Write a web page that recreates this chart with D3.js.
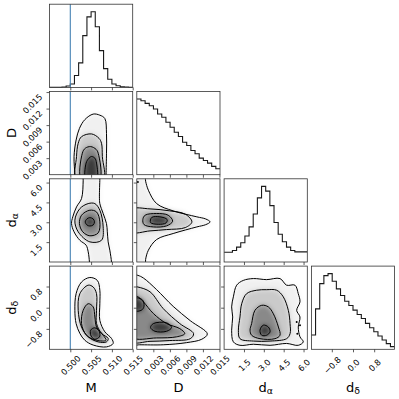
<!DOCTYPE html>
<html><head><meta charset="utf-8">
<script src="https://cdn.jsdelivr.net/npm/d3@7"></script>
<style>
body{margin:0;background:#fff}
text{font-family:"DejaVu Sans",sans-serif;fill:#000}
</style></head><body>
<svg id="c" width="399" height="399"></svg>
<script>
// ---------------- data ----------------
const params = ["M", "D", "dα", "dδ"];
const ranges = [[0.495, 0.515], [0, 0.0151], [0, 6.2832], [-1.5708, 1.5708]];
const tickValues = [[0.500, 0.505, 0.510, 0.515], [0.003, 0.006, 0.009, 0.012, 0.015], [1.5, 3.0, 4.5, 6.0], [-0.8, 0.0, 0.8]];
const tickLabels = [["0.500", "0.505", "0.510", "0.515"], ["0.003", "0.006", "0.009", "0.012", "0.015"], ["1.5", "3.0", "4.5", "6.0"], ["−0.8", "0.0", "0.8"]];
const truthM = 0.500;

// 20-bin histograms (counts, arbitrary units)
const histM  = [0,0,0,1,4,10,35,72,152,207,222,178,108,55,24,10,5,2,1,0];
const histD  = [228,223,215,208,198,183,173,158,143,128,115,98,88,73,63,50,43,35,25,18];
const histDa = [29,29,34,44,57,77,104,142,190,224,210,167,117,82,60,44,34,30,30,30];
const histDd = [43,122,198,222,228,205,182,162,145,132,118,105,93,78,65,53,40,28,17,8];

// contour outlines [level, points] in data units (level 1 = outermost)
const contourMD = [
 [1, [[0.5011,-0.001],[0.5011,0],[0.5009,0.0033],[0.5014,0.0063],[0.5022,0.0084],[0.5035,0.0100],[0.5055,0.0110],[0.5071,0.0108],[0.5083,0.0102],[0.5087,0.0075],[0.5087,0.0039],[0.5086,0],[0.5086,-0.001]]],
 [2, [[0.5015,-0.001],[0.5015,0.0033],[0.5019,0.0057],[0.5027,0.0069],[0.5051,0.0074],[0.5069,0.0066],[0.5075,0.0057],[0.5077,0.0033],[0.5079,-0.001]]],
 [3, [[0.5027,-0.001],[0.5029,0.0039],[0.5036,0.0048],[0.5049,0.0051],[0.5062,0.0046],[0.5067,0.0039],[0.5070,-0.001]]],
 [4, [[0.5038,-0.001],[0.5038,0.0021],[0.5045,0.0030],[0.5051,0.0033],[0.5059,0.0030],[0.5063,0.0021],[0.5063,-0.001]]]
];
const contourMA = [
 [1, [[0.5031,6.6],[0.5031,6.18],[0.5027,4.79],[0.5015,4.16],[0.5006,3.41],[0.5003,2.90],[0.5009,2.28],[0.5023,1.64],[0.5038,1.27],[0.5043,0.77],[0.5046,0],[0.5046,-0.3],[0.5099,-0.3],[0.5099,0],[0.5095,0.89],[0.5091,1.52],[0.5089,2.28],[0.5087,2.90],[0.5079,3.66],[0.5071,4.41],[0.5070,4.92],[0.5071,6.28],[0.5071,6.6]]],
 [2, [[0.5043,4.41],[0.5023,4.03],[0.5011,3.16],[0.5019,2.28],[0.5047,1.52],[0.5075,1.64],[0.5079,2.65],[0.5071,3.91],[0.5059,4.41]]],
 [3, [[0.5047,3.91],[0.5027,3.53],[0.5022,2.90],[0.5030,2.28],[0.5047,1.98],[0.5067,2.20],[0.5071,3.03],[0.5063,3.78]]],
 [4, [[0.5036,3.03],[0.5040,3.25],[0.5047,3.35],[0.5055,3.25],[0.5058,3.03],[0.5055,2.80],[0.5047,2.72],[0.5040,2.80]]]
];
const contourMDd = [
 [1, [[0.5047,1.14],[0.5027,0.97],[0.5014,0.53],[0.5011,-0.10],[0.5014,-0.60],[0.5023,-0.97],[0.5035,-1.23],[0.5055,-1.41],[0.5087,-1.48],[0.5103,-1.35],[0.5099,-1.16],[0.5083,-0.91],[0.5071,-0.48],[0.5071,0.15],[0.5071,0.66],[0.5065,1.03]]],
 [2, [[0.5043,0.85],[0.5023,0.53],[0.5019,-0.10],[0.5027,-0.73],[0.5043,-1.10],[0.5067,-1.29],[0.5087,-1.29],[0.5091,-1.16],[0.5075,-0.97],[0.5063,-0.60],[0.5063,-0.10],[0.5063,0.53],[0.5055,0.78]]],
 [3, [[0.5043,0.15],[0.5031,-0.10],[0.5027,-0.60],[0.5039,-1.04],[0.5063,-1.23],[0.5086,-1.23],[0.5079,-1.04],[0.5063,-0.73],[0.5059,-0.35],[0.5055,0.03]]],
 [4, [[0.5049,-0.85],[0.5059,-0.76],[0.5070,-0.91],[0.5070,-1.10],[0.5059,-1.19],[0.5050,-1.07]]]
];
const contourDA = [
 [1, [[-0.001,6.6],[0.0014,6.6],[0.0016,6.1],[0.0021,5.42],[0.0036,4.41],[0.0066,3.86],[0.0109,3.41],[0.0125,3.25],[0.0133,3.03],[0.0125,2.82],[0.0109,2.65],[0.0066,2.15],[0.0036,1.70],[0.0021,0.89],[0.0016,0.2],[0.0015,-0.3],[-0.001,-0.3]]],
 [2, [[-0.001,3.96],[0.0024,4.01],[0.0060,3.86],[0.0088,3.61],[0.0100,3.03],[0.0088,2.60],[0.0054,2.45],[0.0024,2.35],[-0.001,2.28]]],
 [3, [[0.0015,3.53],[0.0036,3.66],[0.0057,3.53],[0.0065,3.08],[0.0054,2.73],[0.0030,2.65],[0.0013,2.83],[0.0011,3.21]]],
 [4, [[0.0027,3.36],[0.0042,3.41],[0.0055,3.21],[0.0053,2.95],[0.0039,2.85],[0.0025,2.98]]]
];
const contourDD = [
 [1, [[-0.001,1.25],[0.0002,1.22],[0.0012,1.12],[0.0036,0.68],[0.0066,0.05],[0.0097,-0.49],[0.0128,-0.99],[0.0118,-1.19],[0.0090,-1.32],[0.0048,-1.40],[0.0005,-1.40],[-0.001,-1.40]]],
 [2, [[-0.001,0.80],[0.0002,0.78],[0.0024,0.60],[0.0048,-0.035],[0.0078,-0.60],[0.0103,-0.98],[0.0097,-1.17],[0.0060,-1.24],[0.0024,-1.27],[-0.001,-1.27]]],
 [3, [[-0.001,0.42],[0.0002,0.41],[0.0012,0.22],[0.0030,-0.22],[0.0054,-0.60],[0.0078,-0.79],[0.0087,-0.98],[0.0072,-1.10],[0.0036,-1.14],[-0.001,-1.10]]],
 [4, [[0.0030,-0.60],[0.0054,-0.57],[0.0063,-0.75],[0.0054,-0.89],[0.0033,-0.89],[0.0025,-0.75]]],
 [4, [[-0.001,0.35],[0.0010,0.30],[0.0013,0.05],[0.0008,-0.10],[-0.001,-0.10]]]
];
const contourAD = [
 [1, [[0.70,0.41],[0.95,0.85],[1.45,1.03],[2.21,1.10],[3.21,1.06],[4.22,1.10],[4.72,0.85],[5.35,0.85],[5.60,0.53],[5.73,0.22],[5.48,-0.10],[5.73,-0.35],[5.60,-0.73],[5.73,-1.10],[5.98,-1.29],[5.60,-1.42],[4.72,-1.35],[3.47,-1.42],[2.21,-1.38],[1.20,-1.42],[0.70,-1.29],[0.57,-0.85],[0.65,-0.35],[0.57,0.03]]],
 [2, [[1.20,-0.35],[1.33,0.15],[1.70,0.53],[2.46,0.66],[3.21,0.68],[3.97,0.66],[4.47,0.41],[4.85,-0.10],[4.98,-0.60],[4.98,-0.98],[4.72,-1.17],[3.47,-1.26],[2.21,-1.26],[1.20,-1.17],[1.08,-0.85]]],
 [3, [[2.08,-0.60],[2.33,-0.10],[2.84,0.09],[3.34,0.03],[3.72,-0.23],[4.10,-0.73],[4.22,-1.04],[3.84,-1.17],[2.71,-1.17],[2.08,-1.04],[1.96,-0.85]]],
 [4, [[2.71,-0.85],[2.96,-0.66],[3.34,-0.73],[3.47,-0.91],[3.21,-1.04],[2.84,-1.04]]]
];
const pointsDA = [[0.0002,6.05]];
const pointsAD = [[5.48,-0.54],[5.73,-0.66],[5.53,-0.98]];

// ---------------- layout ----------------
const X0 = 49.5, Y0 = 4.2, S = 83.2, STEP = 87.3;
const hists = [histM, histD, histDa, histDd];
const contours = {"1-0": contourMD, "2-0": contourMA, "3-0": contourMDd, "2-1": contourDA, "3-1": contourDD, "3-2": contourAD};
const points = {"2-1": pointsDA, "3-2": pointsAD};
const fillOpacity = {1: 0.06, 2: 0.16, 3: 0.32, 4: 0.58};

const svg = d3.select("#c");
const defs = svg.append("defs");
defs.append("filter").attr("id", "blur").attr("x", "-30%").attr("y", "-30%").attr("width", "160%").attr("height", "160%")
  .append("feGaussianBlur").attr("stdDeviation", 2.6);

const K = 4;
for (let i = 0; i < K; i++) {
  for (let j = 0; j <= i; j++) {
    const g = svg.append("g").attr("transform", `translate(${X0 + j * STEP},${Y0 + i * STEP})`);
    const x = d3.scaleLinear().domain(ranges[j]).range([0, S]);
    const clipId = `clip${i}${j}`;
    defs.append("clipPath").attr("id", clipId).append("rect").attr("width", S).attr("height", S);

    let y;
    if (i === j) {
      const h = hists[j];
      const n = h.length;
      const edges = d3.range(n + 1).map(k => ranges[j][0] + (ranges[j][1] - ranges[j][0]) * k / n);
      y = d3.scaleLinear().domain([0, 1.1 * d3.max(h)]).range([S, 0]);
      const pts = h.map((v, k) => [edges[k], v]).concat([[edges[n], h[n - 1]]]);
      g.append("path").attr("clip-path", `url(#${clipId})`)
        .attr("d", d3.line().x(d => x(d[0])).y(d => y(d[1])).curve(d3.curveStepAfter)(pts))
        .attr("fill", "none").attr("stroke", "#1a1a1a").attr("stroke-width", 1.1);
    } else {
      y = d3.scaleLinear().domain(ranges[i]).range([S, 0]);
      const line = d3.line().x(d => x(d[0])).y(d => y(d[1])).curve(d3.curveCatmullRomClosed.alpha(0.5));
      const cs = contours[`${i}-${j}`];
      const fg = g.append("g").attr("clip-path", `url(#${clipId})`).append("g").attr("filter", "url(#blur)");
      cs.forEach(([lev, p]) => fg.append("path").attr("d", line(p)).attr("fill", "#000").attr("fill-opacity", fillOpacity[lev]));
      const lg = g.append("g").attr("clip-path", `url(#${clipId})`);
      cs.forEach(([lev, p]) => lg.append("path").attr("d", line(p)).attr("fill", "none").attr("stroke", "#000").attr("stroke-width", 1));
      (points[`${i}-${j}`] || []).forEach(p => lg.append("circle").attr("cx", x(p[0])).attr("cy", y(p[1])).attr("r", 1).attr("fill", "#000"));

      // left axis ticks
      const ya = d3.axisLeft(y).tickValues(tickValues[i]).tickSize(3)
        .tickFormat((d, k) => j === 0 ? tickLabels[i][k] : "");
      const yg = g.append("g").call(ya);
      yg.select(".domain").remove();
      yg.selectAll(".tick line").attr("stroke", "#333").attr("stroke-width", 0.8);
      yg.selectAll(".tick text").attr("x", 0).attr("y", 0).attr("dy", 0)
        .attr("text-anchor", "end").attr("font-size", 8.3).attr("font-family", "DejaVu Sans")
        .attr("transform", "translate(-6.5,5) rotate(-45)");
    }
    // truth line
    if (j === 0) {
      g.append("line").attr("x1", x(truthM)).attr("x2", x(truthM)).attr("y1", 0).attr("y2", S)
        .attr("stroke", "#4682b4").attr("stroke-width", 1.1);
    }
    // bottom axis ticks
    const xa = d3.axisBottom(x).tickValues(tickValues[j]).tickSize(3)
      .tickFormat((d, k) => i === K - 1 ? tickLabels[j][k] : "");
    const xg = g.append("g").attr("transform", `translate(0,${S})`).call(xa);
    xg.select(".domain").remove();
    xg.selectAll(".tick line").attr("stroke", "#333").attr("stroke-width", 0.8);
    xg.selectAll(".tick text").attr("x", 0).attr("y", 0).attr("dy", 0)
      .attr("text-anchor", "middle").attr("dominant-baseline", "central")
      .attr("font-size", 8.3).attr("font-family", "DejaVu Sans")
      .attr("transform", "translate(0,16) rotate(-45)");
    // frame
    g.append("rect").attr("width", S).attr("height", S).attr("fill", "none")
      .attr("stroke", "#333").attr("stroke-width", 0.8);
  }
}

// axis labels
function label(sel, name) {
  if (name.length > 1) {
    sel.append("tspan").text(name[0]);
    sel.append("tspan").text(name.slice(1)).attr("font-size", "0.72em").attr("dy", "0.25em");
  } else sel.text(name);
}
for (let j = 0; j < K; j++) {
  const t = svg.append("text").attr("x", X0 + j * STEP + S / 2).attr("y", 392)
    .attr("text-anchor", "middle").attr("font-size", 13);
  label(t, params[j]);
}
for (let i = 1; i < K; i++) {
  const cy = Y0 + i * STEP + S / 2;
  const t = svg.append("text").attr("transform", `translate(16,${cy}) rotate(-90)`)
    .attr("text-anchor", "middle").attr("font-size", 13);
  label(t, params[i]);
}
</script>
</body></html>
